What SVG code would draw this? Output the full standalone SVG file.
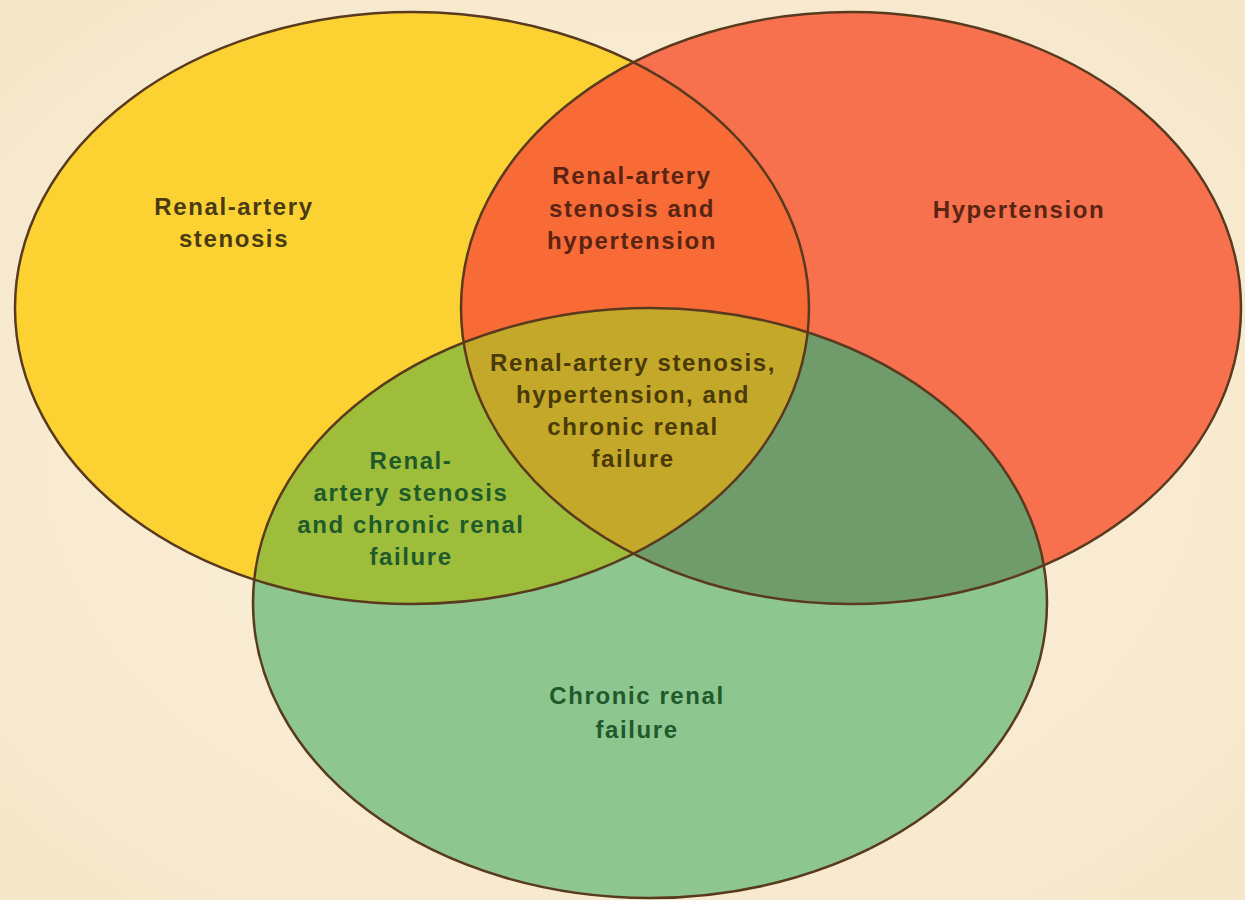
<svg xmlns="http://www.w3.org/2000/svg" width="1245" height="900" viewBox="0 0 1245 900">
<defs>
<radialGradient id="bg" cx="0.5" cy="0.5" r="0.75">
<stop offset="0" stop-color="#FBF1DC"/>
<stop offset="1" stop-color="#F5E6C8"/>
</radialGradient>
<ellipse id="eY" cx="412" cy="308" rx="397" ry="296"/>
<ellipse id="eR" cx="851" cy="308" rx="390" ry="296"/>
<ellipse id="eG" cx="650" cy="603" rx="397" ry="295"/>
<clipPath id="cY"><use href="#eY"/></clipPath>
<clipPath id="cR"><use href="#eR"/></clipPath>
<style>
.t{font-family:"Liberation Sans",Arial,sans-serif;font-weight:bold;font-size:24px;letter-spacing:1.6px;text-anchor:middle}
.ty{fill:#4A3A12}
.tr{fill:#5A2412}
.tg{fill:#1F5A2C}
.tc{fill:#4A3A06}
.edge{fill:none;stroke:#5A3A1E;stroke-width:2.5}
</style>
</defs>
<rect width="1245" height="900" fill="url(#bg)"/>
<g id="sets">
<use href="#eY" fill="#FCD232"/>
<use href="#eR" fill="#F7714F"/>
<use href="#eG" fill="#8DC68E"/>
<g clip-path="url(#cY)"><use href="#eR" fill="#F86A36"/></g>
<g clip-path="url(#cY)"><use href="#eG" fill="#9EBD3A"/></g>
<g clip-path="url(#cR)"><use href="#eG" fill="#6F9C6A"/></g>
<g clip-path="url(#cY)"><g clip-path="url(#cR)"><use href="#eG" fill="#C3A82A"/></g></g>
<use href="#eY" class="edge"/>
<use href="#eR" class="edge"/>
<use href="#eG" class="edge"/>
</g>
<g id="node-ras">
<text class="t ty" x="234" y="215">Renal-artery</text>
<text class="t ty" x="234" y="247">stenosis</text>
</g>
<g id="node-htn">
<text class="t tr" x="1019" y="218">Hypertension</text>
</g>
<g id="node-crf">
<text class="t tg" x="637" y="704">Chronic renal</text>
<text class="t tg" x="637" y="738">failure</text>
</g>
<g id="node-ras-htn">
<text class="t tr" x="632" y="184">Renal-artery</text>
<text class="t tr" x="632" y="217">stenosis and</text>
<text class="t tr" x="632" y="249">hypertension</text>
</g>
<g id="node-ras-crf">
<text class="t tg" x="411" y="469">Renal-</text>
<text class="t tg" x="411" y="501">artery stenosis</text>
<text class="t tg" x="411" y="533">and chronic renal</text>
<text class="t tg" x="411" y="565">failure</text>
</g>
<g id="node-all">
<text class="t tc" x="633" y="371">Renal-artery stenosis,</text>
<text class="t tc" x="633" y="403">hypertension, and</text>
<text class="t tc" x="633" y="435">chronic renal</text>
<text class="t tc" x="633" y="467">failure</text>
</g>
<g id="connectors"/>
</svg>
